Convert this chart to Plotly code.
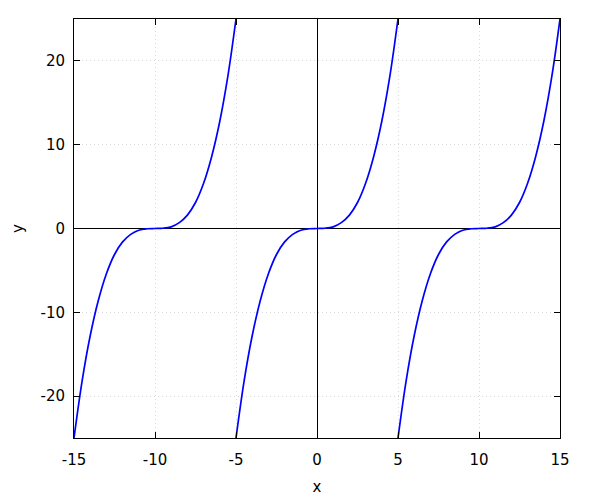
import plotly.graph_objects as go

# One period of the curve: offsets from the segment centre and y values
offsets = [-5, -4.5, -4, -3.5, -3, -2.5, -2, -1.5, -1, -0.5, 0, 0.5, 1, 1.5, 2, 2.5, 3, 3.5, 4, 4.5, 5]
y_period = [-25, -18.2, -12.8, -8.6, -5.4, -3.1, -1.6, -0.7, -0.2, -0.03, 0, 0.03, 0.2, 0.7, 1.6, 3.1, 5.4, 8.6, 12.8, 18.2, 25]
centres = [-10, 0, 10]

x_ticks = [-15, -10, -5, 0, 5, 10, 15]
x_labels = ["-15", "-10", "-5", "0", "5", "10", "15"]
y_ticks = [-20, -10, 0, 10, 20]
y_labels = ["-20", "-10", "0", "10", "20"]

xs, ys = [], []
for c in centres:
    xs += [c + o for o in offsets] + [None]
    ys += y_period + [None]

fig = go.Figure(go.Scatter(x=xs, y=ys, mode="lines",
                           line=dict(color="#0000ff", width=1.7, shape="spline"),
                           connectgaps=False, hoverinfo="skip"))

font = dict(family="DejaVu Sans", size=15, color="black")
axis_common = dict(showline=True, linecolor="black", linewidth=1, mirror="allticks",
                   ticks="inside", ticklen=6, tickcolor="black",
                   showgrid=True, gridcolor="#d9d9d9", griddash="1px,3px", gridwidth=1,
                   zeroline=True, zerolinecolor="black", zerolinewidth=1,
                   tickfont=font, title_font=font)

fig.update_xaxes(range=[-15, 15], tickvals=x_ticks, ticktext=x_labels,
                 ticklabelstandoff=8, title_text="x", title_standoff=13, **axis_common)
fig.update_yaxes(range=[-25, 25], tickvals=y_ticks, ticktext=y_labels,
                 ticklabelstandoff=5, title_text="y", title_standoff=13, **axis_common)

# page body has an 8px margin, so the figure is offset by 8px; margins compensate
fig.update_layout(width=600, height=500, margin=dict(l=66, r=48, t=11, b=70, autoexpand=False),
                  paper_bgcolor="white", plot_bgcolor="white", showlegend=False,
                  font=font)
fig.write_html("out.html")
